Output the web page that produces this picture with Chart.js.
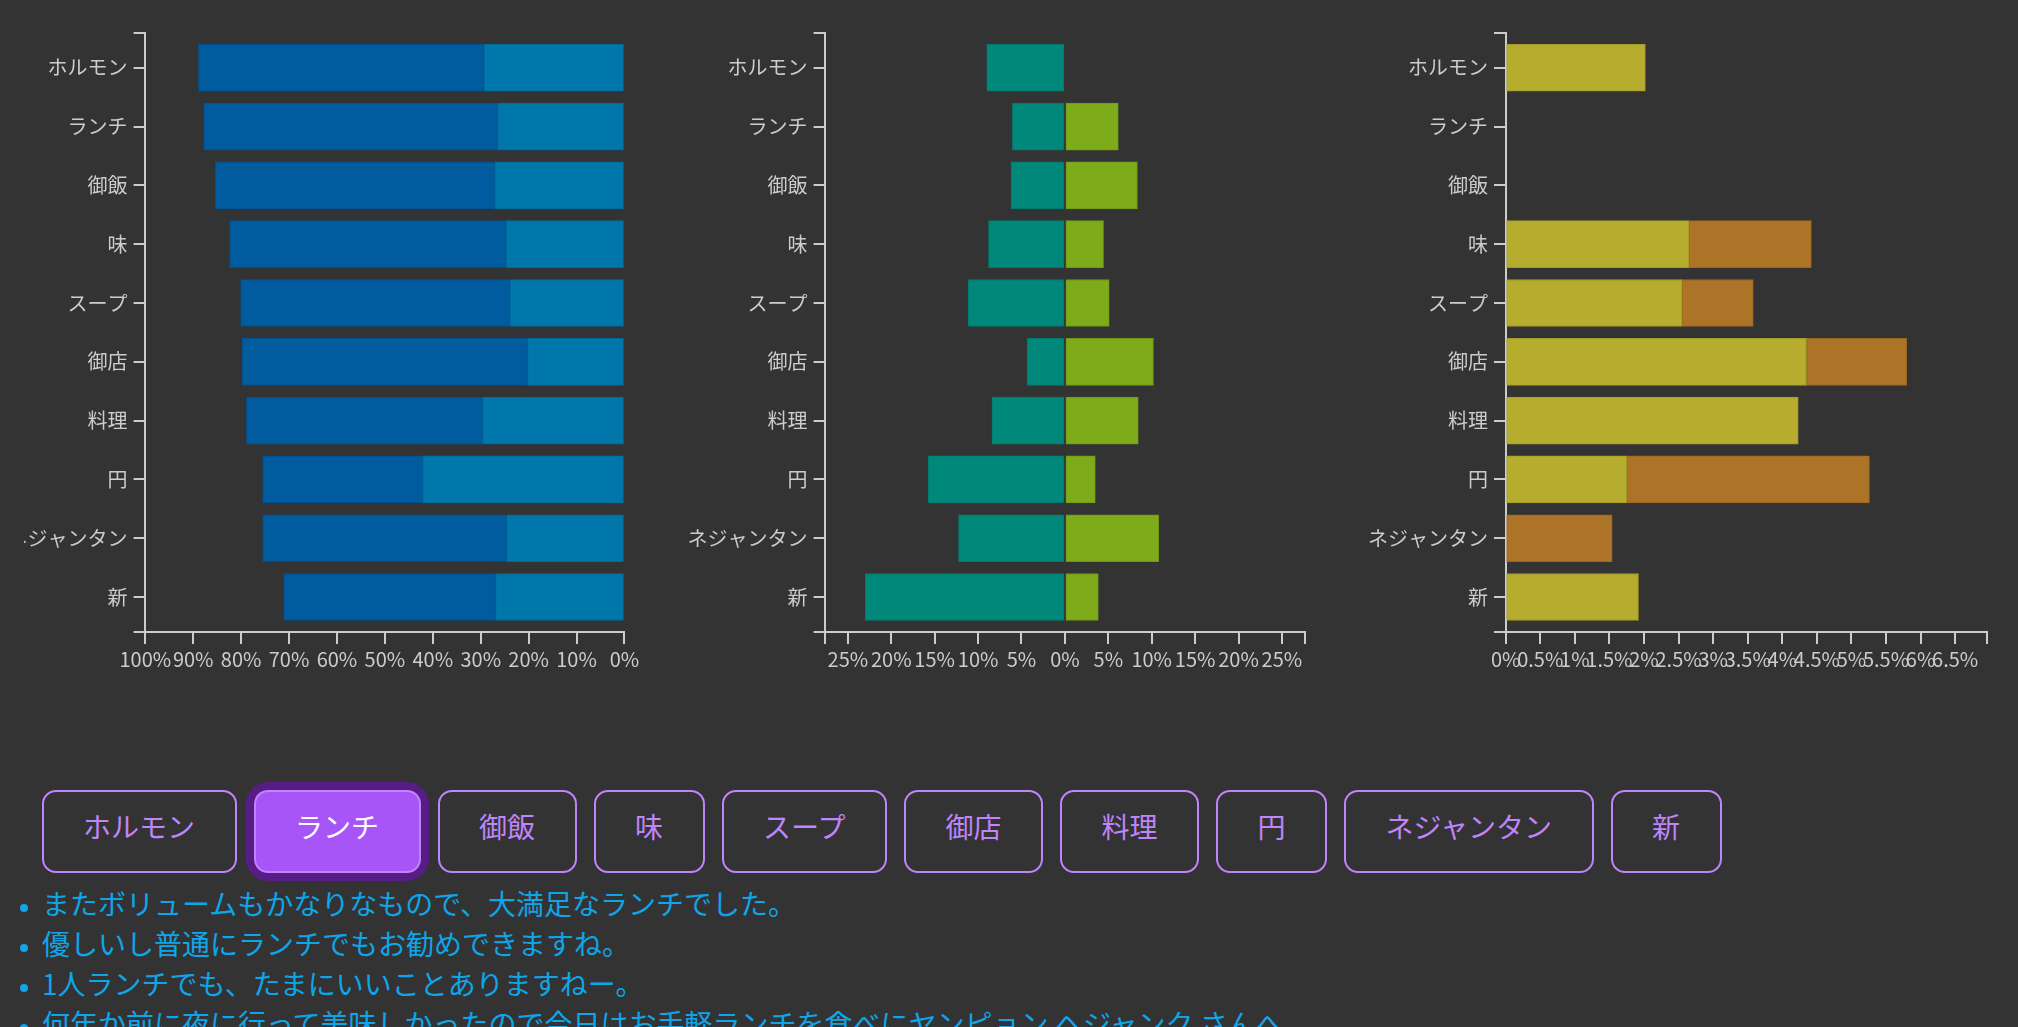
<!DOCTYPE html>
<html lang="ja">
<head>
<meta charset="utf-8">
<title>ワード比較</title>
<script src="https://cdn.jsdelivr.net/npm/chart.js@4/dist/chart.umd.min.js"></script>
<style>
    html, body { margin: 0; padding: 0; background: #333; overflow: hidden; }
    body { width: 2018px; height: 1027px; font-family: "Noto Sans CJK JP", sans-serif; }
    .charts { position: relative; height: 790px; }
    .charts canvas { position: absolute; top: 0; }
    .words { display: flex; gap: 17px; padding-left: 41.5px; }
    .words button {
        height: 83px; padding: 0 39.5px 12px; margin: 0;
        font: 28px "Noto Sans CJK JP", sans-serif;
        color: #c084fc; background: transparent;
        border: 2px solid #c084fc; border-radius: 14px;
    }
    .words button.active { background: #a855f7; color: #fff; box-shadow: 0 0 0 8px #581c87; }
    ul { margin: 10px 0 0; padding-left: 42px; color: #0ea5e9; font-size: 28px; line-height: 40px; }
    li::marker { font-size: 20px; }
</style>
</head>
<body>
<div class="charts">
    <canvas id="shareChart" width="656" height="680" style="left:24px"></canvas>
    <canvas id="diffChart" width="680" height="680" style="left:680px"></canvas>
    <canvas id="rateChart" width="658" height="680" style="left:1360px"></canvas>
</div>
<div class="words" id="words"></div>
<ul id="sentences"></ul>

<script>
// --- data (percent) ---
const words = ['ホルモン', 'ランチ', '御飯', '味', 'スープ', '御店', '料理', '円', 'ネジャンタン', '新'];

// left chart: two stacked shares, drawn from 0% on the right
const shareNear = [29.3, 26.5, 27.1, 24.7, 23.9, 20.2, 29.6, 42.1, 24.6, 26.9];
const shareFar = [59.6, 61.3, 58.3, 57.7, 56.2, 59.6, 49.3, 33.4, 50.9, 44.2];

// middle chart: diverging
const diffNeg = [-9.0, -6.05, -6.2, -8.8, -11.15, -4.35, -8.4, -15.75, -12.25, -23.0];
const diffPos = [0, 6.15, 8.35, 4.45, 5.1, 10.2, 8.45, 3.5, 10.8, 3.85];

// right chart: stacked rates
const rateA = [2.02, 0, 0, 2.65, 2.55, 4.35, 4.23, 1.75, 0, 1.92];
const rateB = [0, 0, 0, 1.77, 1.03, 1.45, 0, 3.51, 1.54, 0];

const shareTicks = [0, 10, 20, 30, 40, 50, 60, 70, 80, 90, 100];
const diffTicks = [-25, -20, -15, -10, -5, 0, 5, 10, 15, 20, 25];
const rateTicks = [0, 0.5, 1, 1.5, 2, 2.5, 3, 3.5, 4, 4.5, 5, 5.5, 6, 6.5];
const diffLimit = 27.6;
const rateLimit = 6.96;

const activeWord = 'ランチ';
const sentences = [
    'またボリュームもかなりなもので、大満足なランチでした。',
    '優しいし普通にランチでもお勧めできますね。',
    '1人ランチでも、たまにいいことありますねー。',
    '何年か前に夜に行って美味しかったので今日はお手軽ランチを食べにヤンピョン ヘジャンク さんへ。'
];

// --- styling ---
const axisColor = '#cccccc';
const tickFont = { family: '"Noto Sans CJK JP", sans-serif', size: 20 };

function points(arr) {
    return arr.map((v, i) => ({ y: i, x: v === 0 ? null : v }));
}

function wordAxis(axisW) {
    return {
        type: 'linear',
        reverse: true,
        offset: false,
        min: -0.6,
        max: words.length - 0.4,
        stacked: true,
        afterBuildTicks: s => {
            s.ticks = [s.min, ...words.map((w, i) => i), s.max].map(v => ({ value: v }));
        },
        afterFit: s => { s.width = axisW; },
        ticks: {
            autoSkip: false, padding: 6, color: axisColor, font: tickFont,
            callback: v => words[v] ?? ''
        },
        grid: { offset: false, drawOnChartArea: false, tickLength: 11.7, lineWidth: 2, color: axisColor },
        border: { color: axisColor, width: 2 }
    };
}

function valueAxis(min, max, tickVals, fmt, reverse) {
    return {
        type: 'linear',
        min, max, reverse,
        stacked: true,
        afterBuildTicks: s => {
            s.ticks = [...new Set([min, ...tickVals, max])].map(v => ({ value: v }));
        },
        afterFit: s => { s.height = 47.7; },
        ticks: {
            autoSkip: false, maxRotation: 0, minRotation: 0, padding: 3,
            color: axisColor, font: tickFont,
            callback: v => tickVals.includes(v) ? fmt(v) : ''
        },
        grid: { drawOnChartArea: false, tickLength: 11.7, lineWidth: 2, color: axisColor },
        border: { color: axisColor, width: 2 }
    };
}

function bars(data, fill, edge) {
    return {
        data: points(data),
        backgroundColor: fill,
        borderColor: edge,
        borderWidth: 1,
        borderSkipped: false,
        barThickness: 47
    };
}

function drawChart(id, datasets, xScale, axisW, plotW, canvasW) {
    new Chart(document.getElementById(id), {
        type: 'bar',
        data: { datasets },
        options: {
            indexAxis: 'y',
            responsive: false,
            animation: false,
            layout: { padding: { top: 32.5, left: 0, bottom: 0, right: canvasW - axisW - plotW } },
            plugins: { legend: { display: false }, tooltip: { enabled: false } },
            scales: { x: xScale, y: wordAxis(axisW) }
        }
    });
}

drawChart('shareChart', [
    bars(shareNear, '#0077aa', '#006b9b'),
    bars(shareFar, '#005b9f', '#00518f')
], valueAxis(0, 100, shareTicks, v => v + '%', true), 121.3, 479.2, 656);

drawChart('diffChart', [
    bars(diffNeg, '#00897b', '#007a6e'),
    bars(diffPos, '#7eab1a', '#709a16')
], valueAxis(-diffLimit, diffLimit, diffTicks, v => Math.abs(v) + '%', false), 145.3, 479.2, 680);

drawChart('rateChart', [
    bars(rateA, '#b6ac2d', '#a39a27'),
    bars(rateB, '#ad7326', '#9a6622')
], valueAxis(0, rateLimit, rateTicks, v => v + '%', false), 145.7, 481.3, 658);

// --- word buttons and example sentences ---
const wordBox = document.getElementById('words');
words.forEach(w => {
    const b = document.createElement('button');
    b.textContent = w;
    if (w === activeWord) b.className = 'active';
    wordBox.appendChild(b);
});

document.getElementById('sentences').innerHTML = sentences.map(s => `<li>${s}</li>`).join('');
</script>
</body>
</html>
